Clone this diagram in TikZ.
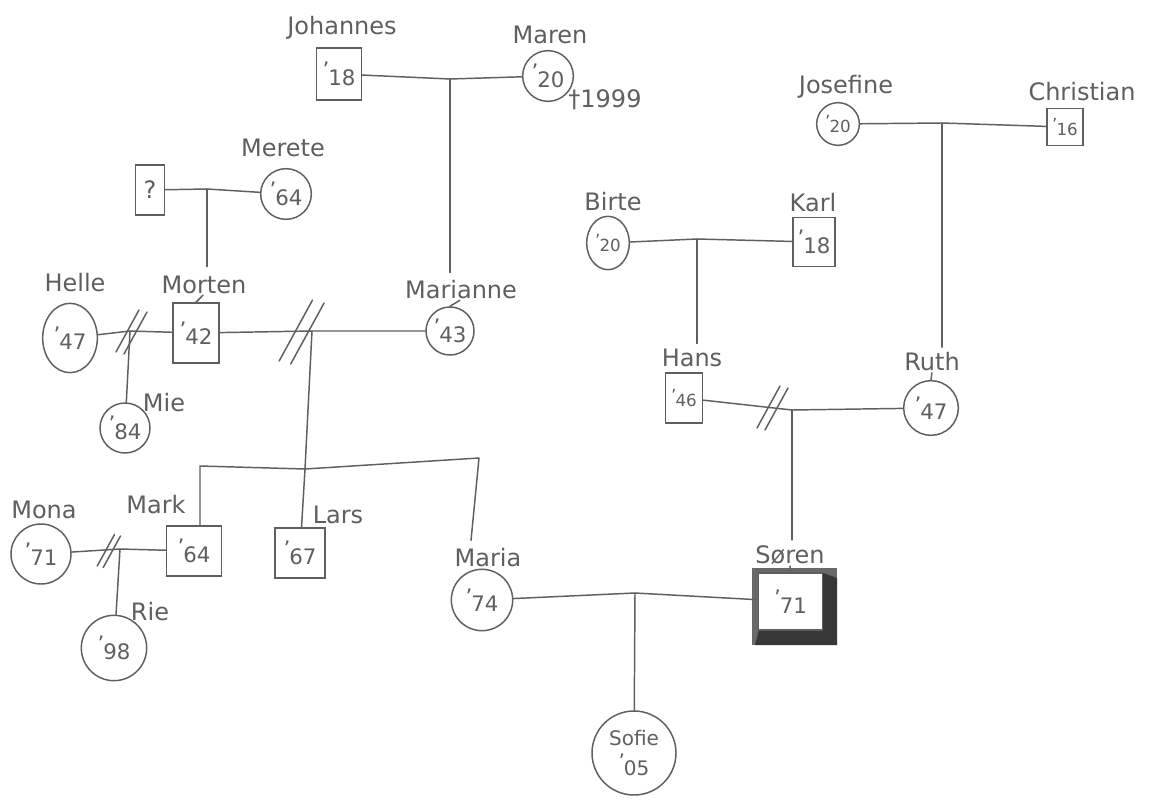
\documentclass[tikz,border=0pt]{standalone}
\usepackage{fontspec}
\setmainfont{DejaVu Sans}
\usetikzlibrary{calc,shapes.geometric}
\definecolor{pencil}{RGB}{95,95,95}
\definecolor{shadecol}{RGB}{55,55,55}
\definecolor{shadelight}{RGB}{105,105,105}
\newcommand\yr[1]{\raisebox{0.35em}{'}\kern-0.05em#1}
\tikzset{divmark/.pic={\draw[rel] (-13,20) -- (10,-22); \draw[rel] (-5,22) -- (18,-20);}}
\begin{document}
\begin{tikzpicture}[x=0.75pt,y=-0.75pt,
 lbl/.style={text=pencil,font=\fontsize{18}{18}\selectfont,inner sep=0pt},
 per/.style={draw=pencil,line width=1.1pt,inner sep=0pt,text=pencil,font=\fontsize{16}{16}\selectfont},
 fem/.style={per,circle},
 ovl/.style={per,ellipse},
 mal/.style={per,rectangle},
 small/.style={font=\fontsize{12.5}{12.5}\selectfont},
 rel/.style={draw=pencil,line width=1.1pt,line cap=round,line join=round},
]
\fill[white] (0,0) rectangle (1153,806);
\useasboundingbox (0,0) rectangle (1153,806);

% ---------- left family ----------
\node[mal,minimum width=34pt,minimum height=39pt] (johannes) at (339,74) {\yr{18}};
\node[lbl] (lJohannes) at (342,28) {Johannes};
\node[fem,minimum size=38pt] (maren) at (548,76) {\yr{20}};
\node[lbl] (lMaren) at (550,35) {Maren};
\node[lbl] (dMaren) at (605,100) {†1999};
\coordinate (cJM) at (450,79);
\node[fem,minimum size=36pt] (marianne) at (450,331) {\yr{43}};
\node[lbl] (lMarianne) at (461,290) {Marianne};

\node[mal,minimum width=22pt,minimum height=37.5pt,font=\fontsize{18}{18}\selectfont] (unk) at (150,190) {?};
\node[fem,minimum size=38pt] (merete) at (286,194) {\yr{64}};
\node[lbl] (lMerete) at (283,148) {Merete};
\coordinate (cQM) at (207,189);
\node[mal,minimum width=34.5pt,minimum height=45pt] (morten) at (196,333) {\yr{42}};
\node[lbl] (lMorten) at (204,285) {Morten};
\node[ovl,minimum width=41pt,minimum height=52pt] (helle) at (70,338) {\yr{47}};
\node[lbl] (lHelle) at (75,283) {Helle};
\coordinate (cHM) at (130,331);
\node[fem,minimum size=37.5pt] (mie) at (125,428) {\yr{84}};
\node[lbl] (lMie) at (164,403) {Mie};
\coordinate (cMM) at (312,331);
\coordinate (sibL) at (200,466);
\coordinate (sibM) at (305,469);
\coordinate (sibR) at (479,458);
\node[mal,minimum width=41pt,minimum height=37.5pt] (mark) at (194,551) {\yr{64}};
\node[lbl] (lMark) at (156,505) {Mark};
\node[mal,minimum size=37.5pt] (lars) at (300,553) {\yr{67}};
\node[lbl] (lLars) at (338,515) {Lars};
\node[fem,minimum size=46pt] (maria) at (482,600) {\yr{74}};
\node[lbl] (lMaria) at (488,558) {Maria};
\node[fem,minimum size=45pt] (mona) at (41,554) {\yr{71}};
\node[lbl] (lMona) at (44,510) {Mona};
\coordinate (cMoM) at (120,549);
\node[fem,minimum size=49pt] (rie) at (114,648) {\yr{98}};
\node[lbl] (lRie) at (150,612) {Rie};

% ---------- right family ----------
\node[fem,small,minimum size=32pt] (josefine) at (838,124) {\yr{20}};
\node[lbl] (lJosefine) at (846,87) {Josefine};
\node[mal,small,minimum width=27pt,minimum height=28pt] (christian) at (1065,127) {\yr{16}};
\node[lbl] (lChristian) at (1082,92) {Christian};
\coordinate (cJC) at (942,123);
\node[ovl,small,minimum width=32pt,minimum height=40pt] (birte) at (608,243) {\yr{20}};
\node[lbl] (lBirte) at (613,202) {Birte};
\node[mal,minimum width=31.5pt,minimum height=37pt] (karl) at (814,242) {\yr{18}};
\node[lbl] (lKarl) at (813,203) {Karl};
\coordinate (cBK) at (697,239);
\node[mal,small,minimum width=28pt,minimum height=37.5pt] (hans) at (684,398) {\yr{46}};
\node[lbl] (lHans) at (692,358) {Hans};
\node[fem,minimum size=41pt] (ruth) at (931,408) {\yr{47}};
\node[lbl] (lRuth) at (932,362) {Ruth};
\coordinate (cHR) at (792,410);
\fill[shadelight] (752,568) rectangle (837,645);
\fill[shadecol] (759,630) -- (823,630) -- (823,573) -- (837,578) -- (837,645) -- (755,645) -- cycle;
\node[mal,fill=white,minimum width=48pt,minimum height=42.75pt] (soren) at (790.5,601.5) {\yr{71}};
\node[lbl] (lSoren) at (790,555) {Søren};
\coordinate (cMS) at (635,593);
\node[fem,minimum size=63pt,align=center,font=\fontsize{15}{18}\selectfont] (sofie) at (634,753) {Sofie\\[4pt]\yr{05}};

% ---------- connectors ----------
\draw[rel] (johannes) -- (cJM) -- (maren);
\draw[rel,shorten >=6pt] (cJM) -- (cJM |- lMarianne.north);
\draw[rel,shorten <=1pt] (lMarianne.south) -- (marianne.north);

\draw[rel] (unk) -- (cQM) -- (merete);
\draw[rel,shorten >=7pt] (cQM) -- (cQM |- lMorten.north);
\draw[rel,shorten <=1pt] (lMorten.south) -- (morten.north);
\draw[rel] (helle) -- (cHM) -- (morten);
\draw[rel] (cHM) -- (mie);
\pic at (129,332) {divmark};
\draw[rel] (morten) -- (cMM) -- (marianne);
\pic[scale=1.45] at (298,332) {divmark};
\draw[rel] (cMM) -- (sibM);
\draw[rel] (sibL |- mark.north) -- (sibL) -- (sibM) -- (sibR) -- ($(lMaria.north)+(-17,-8)$);
\draw[rel] (sibM) -- (lars);
\draw[rel] (mona) -- (cMoM) -- (mark);
\pic[scale=0.75] at (107,551) {divmark};
\draw[rel] (cMoM) -- (rie);

\draw[rel] (josefine) -- (cJC) -- (christian);
\draw[rel,shorten >=4pt] (cJC) -- (cJC |- lRuth.north);
\draw[rel,shorten <=1pt] (lRuth.south) -- (ruth.north);
\draw[rel] (birte) -- (cBK) -- (karl);
\draw[rel,shorten >=4pt] (cBK) -- (cBK |- lHans.north);
\draw[rel] (hans) -- (cHR) -- (ruth);
\pic at (770,408) {divmark};
\draw[rel,shorten >=4pt] (cHR) -- (cHR |- lSoren.north);
\draw[rel,shorten <=1pt] (lSoren.south) -- (soren.north);
\draw[rel] (maria) -- (cMS) -- (soren);
\draw[rel] (cMS) -- (sofie);
\end{tikzpicture}
\end{document}
